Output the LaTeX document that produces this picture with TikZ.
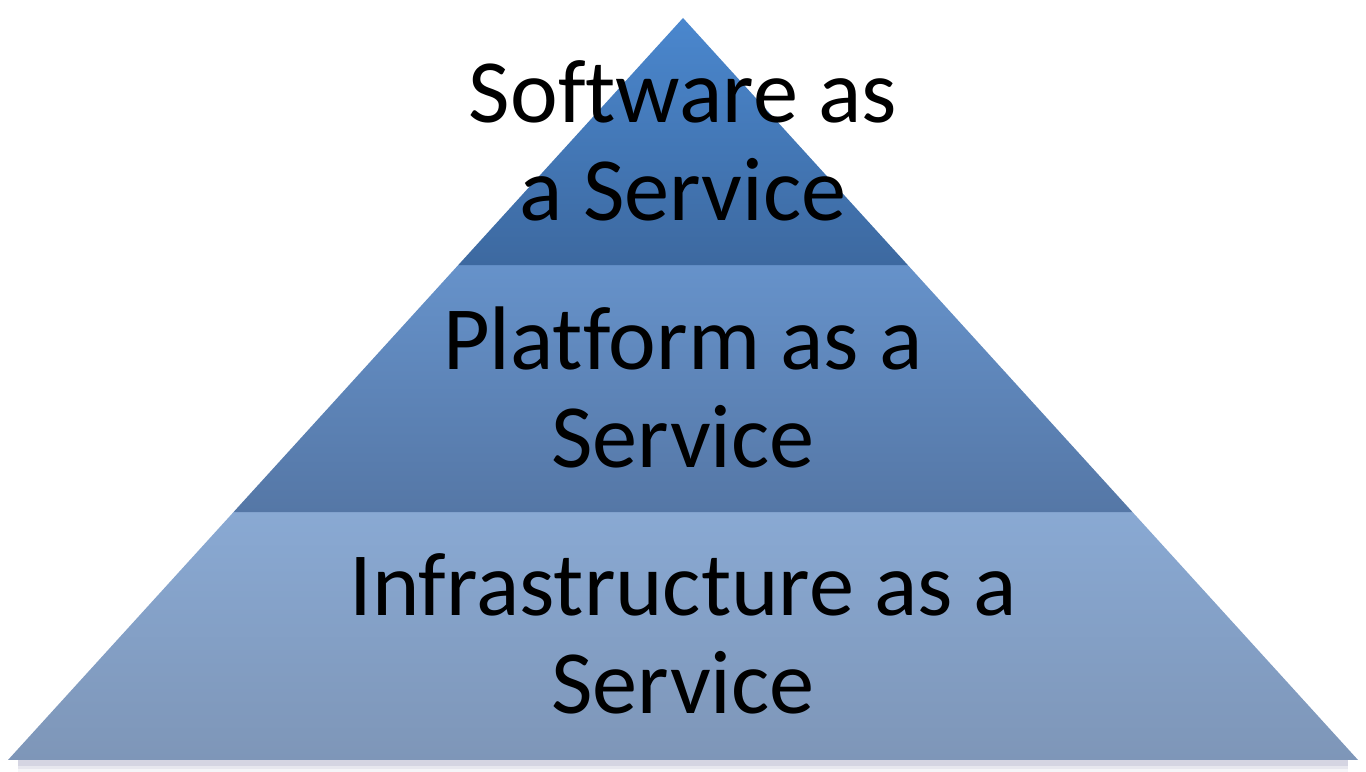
\documentclass[tikz,border=0pt]{standalone}
\usepackage{fontspec}
\setmainfont{Carlito}[Ligatures=NoCommon]
\usepackage{xcolor}
\usepackage{tikz}
\usetikzlibrary{calc}
\definecolor{saastop}{RGB}{74,135,206}
\definecolor{saasbot}{RGB}{61,105,160}
\definecolor{paastop}{RGB}{102,146,202}
\definecolor{paasbot}{RGB}{85,119,166}
\definecolor{iaastop}{RGB}{137,169,211}
\definecolor{iaasbot}{RGB}{126,150,184}
\tikzstyle{layer}=[draw=none]
\tikzstyle{lbl}=[align=center,text=black,inner sep=0pt,% big two-line label
font=\fontsize{25.7}{27.9}\selectfont]

\begin{document}
\begin{tikzpicture}
\useasboundingbox (0,0) rectangle (13.66,7.72);

\coordinate (apex) at (6.83,7.54);
\coordinate (bl) at (0.08,0.12);
\coordinate (br) at (13.58,0.12);
\coordinate (ml1) at ($(apex)!0.333!(bl)$);
\coordinate (mr1) at ($(apex)!0.333!(br)$);
\coordinate (ml2) at ($(apex)!0.666!(bl)$);
\coordinate (mr2) at ($(apex)!0.666!(br)$);

% soft shadow under the base
\foreach \w/\o in {6/0.04,3.5/0.06,1.5/0.08}
  \draw[line width=\w pt,opacity=\o,color=black!70!blue] ($(bl)+(0.1,-0.03)$) -- ($(br)+(-0.1,-0.03)$);

\shade[layer,top color=iaastop,bottom color=iaasbot] (ml2) -- (mr2) -- (br) -- (bl) -- cycle;
\shade[layer,top color=paastop,bottom color=paasbot] (ml1) -- (mr1) -- (mr2) -- (ml2) -- cycle;
\shade[layer,top color=saastop,bottom color=saasbot] (apex) -- (mr1) -- (ml1) -- cycle;

\node[lbl] (saas) at (6.83,6.31) {Software as\\a Service};
\node[lbl] (paas) at (6.83,3.85) {Platform as a\\Service};
\node[lbl] (iaas) at (6.83,1.38) {Infrastructure as a\\Service};

\end{tikzpicture}
\end{document}
